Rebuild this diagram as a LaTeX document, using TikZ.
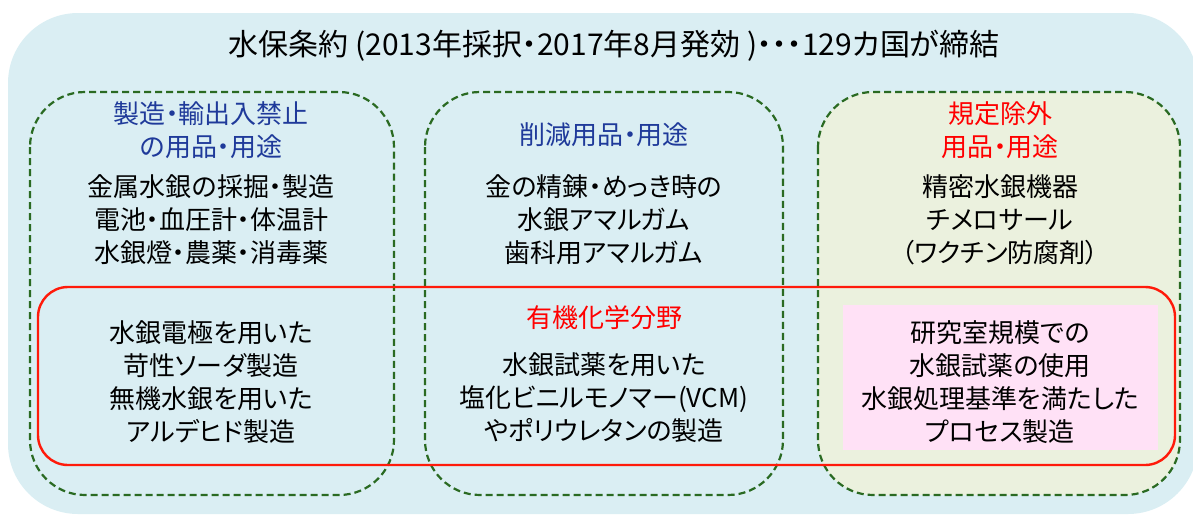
\documentclass[tikz,border=0pt]{standalone}
\usepackage{fontspec}
\setmainfont{Noto Sans CJK JP}[RawFeature=+palt]
\definecolor{outerbg}{HTML}{DAEEF3}
\definecolor{greenbg}{HTML}{EBF1DE}
\definecolor{dashgreen}{HTML}{2A6A22}
\definecolor{headblue}{HTML}{1F3A9A}
\definecolor{pinkbg}{HTML}{FFE1F6}
\definecolor{redline}{HTML}{FF1A0A}
\tikzset{
  groupbox/.style={draw=dashgreen, line width=2.2pt, dash pattern=on 7pt off 4pt, rounded corners=55pt},
  txt/.style={align=center, font=\fontsize{26}{33}\selectfont, inner sep=0pt},
  headb/.style={txt, text=headblue},
  headr/.style={txt, text=red},
}
\begin{document}
\begin{tikzpicture}[x=1pt,y=-1pt]
\useasboundingbox (0,0) rectangle (1193,515);
\begin{scope}
\clip (0,0) rectangle (1193,515);
\fill[outerbg, rounded corners=70pt] (8,13) rectangle (1198,514);
\end{scope}
\node[font=\fontsize{30}{34}\selectfont, inner sep=0pt] (title) at (614,46) {水保条約 (2013年採択・2017年8月発効 )・・・129カ国が締結};

\draw[groupbox] (30,92) rectangle (394,495);
\draw[groupbox] (425,92) rectangle (783,495);
\draw[groupbox, fill=greenbg] (818,92) rectangle (1180,495);

\fill[pinkbg] (843,305) rectangle (1158,450);
\draw[redline, line width=2.4pt, rounded corners=30pt] (38,287) rectangle (1175,465);

\node[headb] (h1) at (211,130) {製造・輸出入禁止\\の用品・用途};
\node[txt] (t1) at (211,220) {金属水銀の採掘・製造\\電池・血圧計・体温計\\水銀燈・農薬・消毒薬};
\node[txt] (l1) at (211,382) {水銀電極を用いた\\苛性ソーダ製造\\無機水銀を用いた\\アルデヒド製造};

\node[headb] (h2) at (604,135) {削減用品・用途};
\node[txt] (t2) at (604,220) {金の精錬・めっき時の\\水銀アマルガム\\歯科用アマルガム};
\node[headr] (r2) at (604,318) {有機化学分野};
\node[txt] (l2) at (604,398) {水銀試薬を用いた\\塩化ビニルモノマー(VCM)\\やポリウレタンの製造};

\node[headr] (h3) at (1000,130) {規定除外\\用品・用途};
\node[txt] (t3) at (1000,220) {精密水銀機器\\チメロサール\\（ワクチン防腐剤）};
\node[txt] (l3) at (1000,382) {研究室規模での\\水銀試薬の使用\\水銀処理基準を満たした\\プロセス製造};
\end{tikzpicture}
\end{document}
